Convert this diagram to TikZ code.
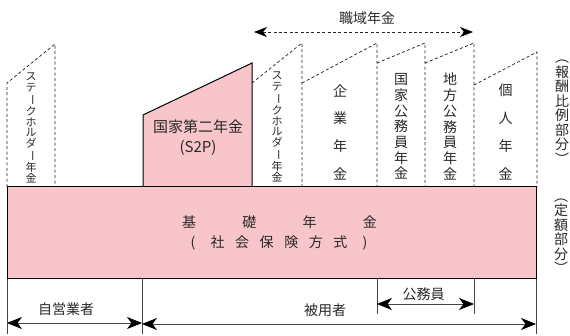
\documentclass[tikz,border=0pt]{standalone}
\usepackage{fontspec}
\usepackage{graphicx}
\setmainfont{Noto Sans CJK JP}
\usetikzlibrary{arrows.meta}
\definecolor{pinkfill}{RGB}{248,198,202}
\definecolor{txt}{RGB}{40,40,40}
\definecolor{lgray}{RGB}{70,70,70}
\newcommand\cbA[1]{\makebox[60.3pt]{#1}}
\newcommand\cbB[1]{\makebox[24.6pt]{#1}}
\newcommand\vbar{\rotatebox[origin=c]{-90}{ー}}
\begin{document}
\begin{tikzpicture}[x=1pt,y=-1pt,
  dline/.style={draw=black!85, dash pattern=on 3pt off 2.4pt, line width=0.75pt},
  sline/.style={draw=black, line width=1pt},
  gline/.style={draw=lgray, line width=0.8pt},
  lab/.style={inner sep=0pt, text=txt, font=\fontsize{14}{16}\selectfont},
  vsmall/.style={align=center, inner sep=0pt, text=txt, font=\fontsize{11}{10.8}\selectfont},
  vmid/.style={align=center, inner sep=0pt, text=txt, font=\fontsize{14}{15.7}\selectfont},
  vwide/.style={align=center, inner sep=0pt, text=txt, font=\fontsize{14}{27.7}\selectfont},
  vside/.style={align=center, inner sep=0pt, text=txt, font=\fontsize{14}{14.5}\selectfont},
  dtip/.style={{Stealth[length=15pt,width=12pt,inset=4.5pt,color=black]}-{Stealth[length=15pt,width=12pt,inset=4.5pt,color=black]}},
  ttip/.style={{Stealth[length=13pt,width=10pt,inset=4pt,color=black]}-{Stealth[length=13pt,width=10pt,inset=4pt,color=black]}}
]
\useasboundingbox (0,0) rectangle (570,336);

% dashed upper columns
\draw[dline] (7,187) -- (7,83) -- (55,44) -- (55,187);
\draw[dline] (252,83) -- (302,43) -- (302,187);
\draw[dline] (302,83) -- (377,43) -- (377,187);
\draw[dline] (377,63) -- (425,43) -- (425,187);
\draw[dline] (425,63) -- (474,43) -- (474,187);
\draw[dline] (474,85) -- (537,52) -- (537,187);

% S2P
\draw[sline, fill=pinkfill] (143,187) -- (143,115) -- (252,63) -- (252,187) -- cycle;
\node[lab, font=\fontsize{15}{17}\selectfont] (s2p) at (198,127) {国家第二年金};
\node[lab, font=\fontsize{15}{17}\selectfont] (s2pb) at (198,148) {(S2P)};

% base
\draw[sline, fill=pinkfill] (7,187) rectangle (536,279);
\node[lab] (kiso) at (279.5,222) {\cbA{基}\cbA{礎}\cbA{年}\cbA{金}};
\node[lab] (shakai) at (279,243) {\cbB{(}\cbB{社}\cbB{会}\cbB{保}\cbB{険}\cbB{方}\cbB{式}\cbB{)}};

% vertical labels
\node[vsmall] (sh1) at (31,128) {ス\\テ\\\vbar\\ク\\ホ\\ル\\ダ\\\vbar\\年\\金};
\node[vsmall] (sh2) at (277,127) {ス\\テ\\\vbar\\ク\\ホ\\ル\\ダ\\\vbar\\年\\金};
\node[vwide] (kigyo) at (340,132) {企\\業\\年\\金};
\node[vmid] (kokka) at (401,126.5) {国\\家\\公\\務\\員\\年\\金};
\node[vmid] (chiho) at (450,126.5) {地\\方\\公\\務\\員\\年\\金};
\node[vwide] (kojin) at (505.5,132) {個\\人\\年\\金};
\node[vside] (hoshu) at (562,112) {︵\\報\\酬\\比\\例\\部\\分\\︶};
\node[vside] (teigaku) at (561,236) {︵\\定\\額\\部\\分\\︶};

% top arrow
\node[lab] (shokuiki) at (367,18) {職域年金};
\coordinate (tL) at (254,32);
\coordinate (tR) at (473,32);
\draw[dline, ttip] (tL) -- (tR);

% bottom lines
\coordinate (b1t) at (7,279);   \coordinate (b1b) at (7,334);
\coordinate (b2t) at (142,279); \coordinate (b2b) at (142,334);
\coordinate (b3t) at (536,279); \coordinate (b3b) at (536,334);
\coordinate (k1t) at (377,279); \coordinate (k1b) at (377,314);
\coordinate (k2t) at (474,279); \coordinate (k2b) at (474,314);
\draw[gline] (b1t) -- (b1b);
\draw[gline] (b2t) -- (b2b);
\draw[gline] (b3t) -- (b3b);
\draw[gline] (k1t) -- (k1b);
\draw[gline] (k2t) -- (k2b);

\node[lab] (jiei) at (66,309) {自営業者};
\node[lab] (hiyo) at (325,310) {被用者};
\node[lab] (komu) at (423.5,294) {公務員};

\coordinate (a1L) at (7,323);   \coordinate (a1R) at (142,323);
\coordinate (a2L) at (142,324); \coordinate (a2R) at (536,324);
\coordinate (a3L) at (377,304); \coordinate (a3R) at (474,304);
\draw[gline, dtip] (a1L) -- (a1R);
\draw[gline, dtip] (a2L) -- (a2R);
\draw[gline, dtip] (a3L) -- (a3R);
\end{tikzpicture}
\end{document}
